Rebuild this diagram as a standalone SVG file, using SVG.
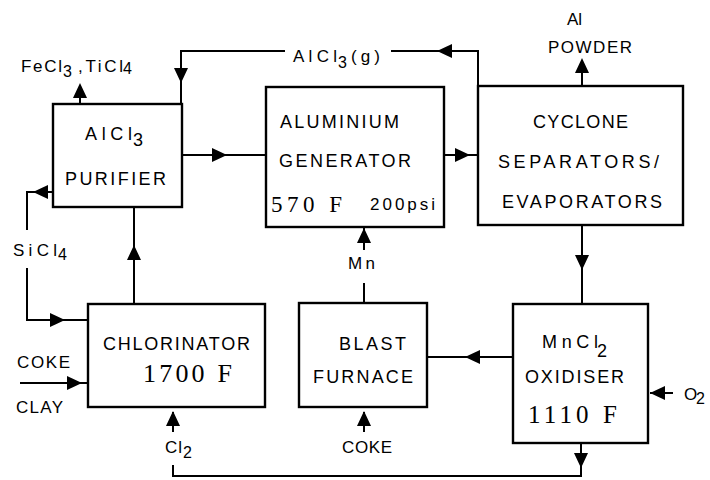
<svg xmlns="http://www.w3.org/2000/svg" xmlns:xlink="http://www.w3.org/1999/xlink" width="710" height="480" viewBox="0 0 710 480">
<style>
.box{fill:#fff;stroke:#000;stroke-width:2.4}
.ln{fill:none;stroke:#000;stroke-width:2}
.t{font-family:"Liberation Sans","DejaVu Sans",sans-serif;font-size:18px;fill:#000}
.s{font-family:"Liberation Sans","DejaVu Sans",sans-serif;font-size:17px;fill:#000}
.sub{font-family:"Liberation Sans","DejaVu Sans",sans-serif;font-size:16px;fill:#000}
.n{font-family:"Liberation Serif","DejaVu Serif",serif;fill:#000}
</style>
<defs>
<path id="ah" d="M0,0 L-15,-7 L-15,7 Z" fill="#000"/>
</defs>
<rect width="710" height="480" fill="#fff"/>
<g id="connectors">
<path class="ln" d="M478,86 V51 H391 M285,51 H181 V104"/>
<use xlink:href="#ah" transform="translate(437,51) rotate(180)"/>
<use xlink:href="#ah" transform="translate(181,83) rotate(90)"/>
<path class="ln" d="M182,155 H266"/>
<use xlink:href="#ah" transform="translate(227,155)"/>
<path class="ln" d="M444,155 H478"/>
<use xlink:href="#ah" transform="translate(470,155)"/>
<path class="ln" d="M80,104 V90"/>
<use xlink:href="#ah" transform="translate(80,83) rotate(-90)"/>
<path class="ln" d="M582,86 V70"/>
<use xlink:href="#ah" transform="translate(582,58) rotate(-90)"/>
<path class="ln" d="M582,225 V304"/>
<use xlink:href="#ah" transform="translate(582,270) rotate(90)"/>
<path class="ln" d="M513,357 H427"/>
<use xlink:href="#ah" transform="translate(465,357) rotate(180)"/>
<path class="ln" d="M364,303 V283 M364,250 V228"/>
<use xlink:href="#ah" transform="translate(364,228) rotate(-90)"/>
<path class="ln" d="M364,432 V412"/>
<use xlink:href="#ah" transform="translate(364,411) rotate(-90)"/>
<path class="ln" d="M134,304 V207"/>
<use xlink:href="#ah" transform="translate(134,245) rotate(-90)"/>
<path class="ln" d="M53,192 H27 V230 M27,268 V320 H88"/>
<use xlink:href="#ah" transform="translate(33,192) rotate(180)"/>
<use xlink:href="#ah" transform="translate(65,320)"/>
<path class="ln" d="M20,383 H88"/>
<use xlink:href="#ah" transform="translate(82,383)"/>
<path class="ln" d="M581,443 V476 H173 V465"/>
<use xlink:href="#ah" transform="translate(581,468) rotate(90)"/>
<path class="ln" d="M173,432 V412"/>
<use xlink:href="#ah" transform="translate(173,411) rotate(-90)"/>
<path class="ln" d="M673,393 H650"/>
<use xlink:href="#ah" transform="translate(650,393) rotate(180)"/>
</g>
<g id="purifier">
<rect class="box" x="53" y="104" width="129" height="103"/>
<text class="t" x="85" y="140" textLength="47" lengthAdjust="spacing">AlCl</text>
<text class="t" x="133" y="146">3</text>
<text class="t" x="65" y="185" textLength="101" lengthAdjust="spacing">PURIFIER</text>
</g>
<g id="generator">
<rect class="box" x="266" y="87" width="178" height="140"/>
<text class="t" x="280" y="128" textLength="119" lengthAdjust="spacing">ALUMINIUM</text>
<text class="t" x="279" y="167" textLength="132" lengthAdjust="spacing">GENERATOR</text>
<text class="n" x="271" y="212" font-size="23" textLength="71" lengthAdjust="spacing">570 F</text>
<text class="s" x="370" y="210" textLength="65" lengthAdjust="spacing">200psi</text>
</g>
<g id="cyclone">
<rect class="box" x="478" y="86" width="205" height="139"/>
<text class="t" x="533" y="128" textLength="95" lengthAdjust="spacing">CYCLONE</text>
<text class="t" x="498" y="168" textLength="161" lengthAdjust="spacing">SEPARATORS/</text>
<text class="t" x="502" y="208" textLength="160" lengthAdjust="spacing">EVAPORATORS</text>
</g>
<g id="chlorinator">
<rect class="box" x="88" y="304" width="177" height="103"/>
<text class="t" x="103" y="350" textLength="147" lengthAdjust="spacing">CHLORINATOR</text>
<text class="n" x="143" y="382" font-size="26" textLength="89" lengthAdjust="spacing">1700 F</text>
</g>
<g id="blast">
<rect class="box" x="299" y="303" width="128" height="104"/>
<text class="t" x="339" y="350" textLength="67" lengthAdjust="spacing">BLAST</text>
<text class="t" x="313" y="383" textLength="100" lengthAdjust="spacing">FURNACE</text>
</g>
<g id="oxidiser">
<rect class="box" x="513" y="304" width="135" height="139"/>
<text class="t" x="542" y="348" textLength="56" lengthAdjust="spacing">MnCl</text>
<text class="t" x="597" y="357">2</text>
<text class="t" x="525" y="383" textLength="99" lengthAdjust="spacing">OXIDISER</text>
<text class="n" x="528" y="423" font-size="25" textLength="89" lengthAdjust="spacing">1110 F</text>
</g>
<g id="labels">
<text class="s" x="21" y="72" textLength="41" lengthAdjust="spacing">FeCl</text>
<text class="sub" x="63" y="77">3</text>
<text class="s" x="78" y="72" textLength="45" lengthAdjust="spacing">,TiCl</text>
<text class="sub" x="123" y="74">4</text>
<text class="s" x="293" y="62" textLength="44" lengthAdjust="spacing">AlCl</text>
<text class="sub" x="338" y="68">3</text>
<text class="s" x="351" y="62" textLength="29" lengthAdjust="spacing">(g)</text>
<text class="s" x="567" y="25">Al</text>
<text class="s" x="548" y="53" textLength="84" lengthAdjust="spacing">POWDER</text>
<text class="s" x="13" y="256" textLength="44" lengthAdjust="spacing">SiCl</text>
<text class="sub" x="58" y="260">4</text>
<text class="s" x="17" y="368" textLength="53" lengthAdjust="spacing">COKE</text>
<text class="s" x="16" y="413" textLength="47" lengthAdjust="spacing">CLAY</text>
<text class="s" x="165" y="453" textLength="17" lengthAdjust="spacing">Cl</text>
<text class="sub" x="183" y="458">2</text>
<text class="s" x="348" y="269" textLength="27" lengthAdjust="spacing">Mn</text>
<text class="s" x="342" y="453" textLength="50" lengthAdjust="spacing">COKE</text>
<text class="s" x="684" y="400">O</text>
<text class="sub" x="696" y="404">2</text>
</g>
</svg>
